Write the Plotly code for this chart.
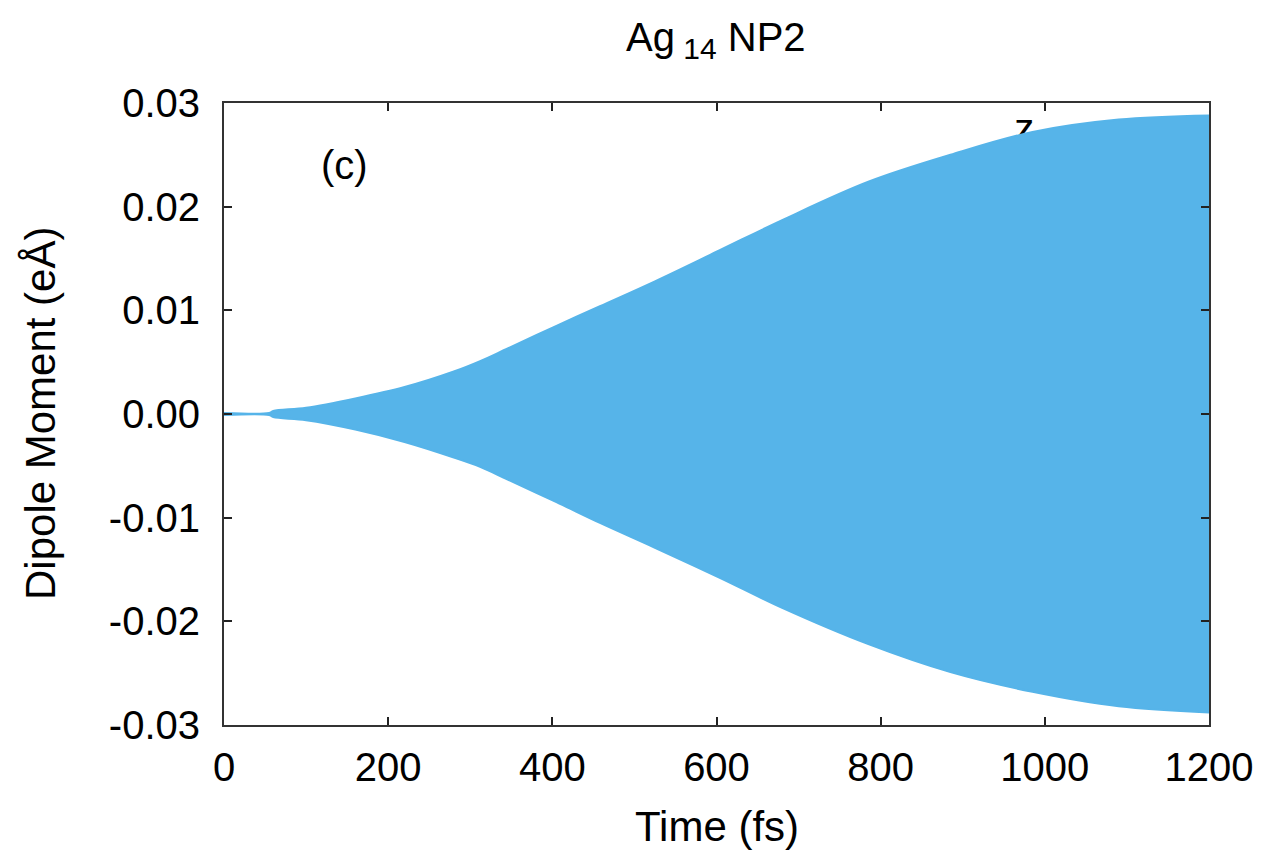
import plotly.graph_objects as go

# Envelope of the oscillating z-dipole signal
time_fs = [0, 55, 60, 100, 160, 220, 280, 312, 345, 405, 458, 525, 604, 680, 785, 885, 985, 1090, 1200]
upper = [0.0001, 0.0001, 0.0003, 0.0006, 0.0015, 0.0026, 0.0041, 0.0051, 0.0063, 0.0085,
         0.0104, 0.0128, 0.0158, 0.0187, 0.0224, 0.0250, 0.0272, 0.0284, 0.0288]
lower = [-0.0001, -0.0001, -0.0003, -0.0006, -0.0015, -0.0027, -0.0042, -0.0051, -0.0063, -0.0085,
         -0.0105, -0.0129, -0.0158, -0.0187, -0.0222, -0.0249, -0.0268, -0.0282, -0.0288]

x_ticks = [0, 200, 400, 600, 800, 1000, 1200]
y_ticks = [-0.03, -0.02, -0.01, 0.0, 0.01, 0.02, 0.03]
y_tick_text = ["-0.03", "-0.02", "-0.01", "0.00", "0.01", "0.02", "0.03"]

color = "#56B4E9"
font = "Liberation Sans, Arial, sans-serif"

fig = go.Figure()
# legend label (drawn beneath the data, as in the original)
fig.add_trace(go.Scatter(x=[975], y=[0.0272], mode="text", text=["z"],
                         textfont=dict(size=40, color="black", family=font),
                         showlegend=False, hoverinfo="skip"))
# filled envelope between lower and upper edges
fig.add_trace(go.Scatter(x=time_fs, y=lower, mode="lines",
                         line=dict(color=color, width=2, shape="spline", smoothing=1.0),
                         showlegend=False, hoverinfo="skip"))
fig.add_trace(go.Scatter(x=time_fs, y=upper, mode="lines", fill="tonexty", fillcolor=color,
                         line=dict(color=color, width=2, shape="spline", smoothing=1.0),
                         showlegend=False, hoverinfo="skip"))

fig.add_annotation(x=147, y=0.024, text="(c)", showarrow=False,
                   font=dict(size=40, color="black", family=font))
fig.add_annotation(xref="paper", yref="paper", x=0, y=0.5, xanchor="center", yanchor="middle",
                   xshift=-184, textangle=-90, text="Dipole Moment (eÅ)", showarrow=False,
                   font=dict(size=42, color="black", family=font))
fig.add_annotation(xref="paper", yref="paper", x=0.5, y=0, xanchor="center", yanchor="middle",
                   yshift=-101, text="Time (fs)", showarrow=False,
                   font=dict(size=42, color="black", family=font))

axis_common = dict(showgrid=False, zeroline=False, mirror="ticks", ticks="inside",
                   ticklen=8, tickwidth=1.5, tickcolor="#222", showline=True,
                   linecolor="#333", linewidth=2,
                   tickfont=dict(size=40, color="black", family=font))

fig.update_xaxes(range=[0, 1200], tickvals=x_ticks, ticklabelstandoff=6, **axis_common)
fig.update_yaxes(range=[-0.03, 0.03], tickvals=y_ticks, ticktext=y_tick_text,
                 ticklabelstandoff=14, **axis_common)

fig.update_layout(
    width=1264, height=850,
    margin=dict(l=216, r=63, t=95, b=133),
    paper_bgcolor="white", plot_bgcolor="white",
    title=dict(text="Ag<sub><span style='font-size:30px'> 14</span></sub> NP2",
               x=0.560, xanchor="center", y=0.966, yanchor="middle",
               font=dict(size=40, color="black", family=font)),
)

fig.write_html("out.html")
